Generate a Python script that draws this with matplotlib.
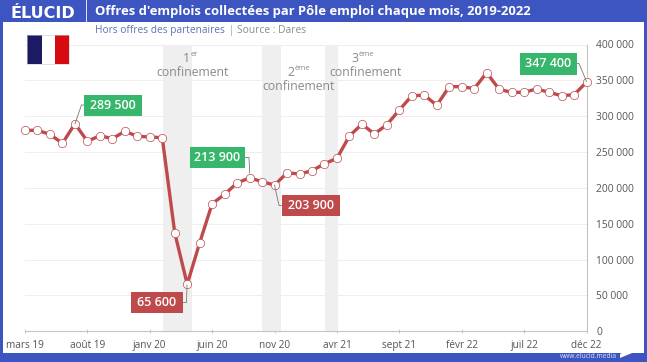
import matplotlib
matplotlib.use('Agg')
import matplotlib.pyplot as plt
from matplotlib.patches import Rectangle, Polygon

plt.rcParams['font.family'] = ['Open Sans', 'DejaVu Sans']

W, H = 647, 362

values = [280300, 280300, 274700, 262200, 289500, 265000, 272800, 268600, 279000, 272000,
          271000, 270000, 137500, 65600, 123600, 178000, 191000, 207000, 213900, 208700,
          203900, 221000, 219400, 224000, 233700, 241300, 272400, 289000, 275200, 288200,
          308600, 328600, 329300, 315200, 341200, 341200, 338400, 360700, 337500, 333300,
          333300, 338000, 333300, 328600, 330000, 347400]
tick_pos = [0, 5, 10, 15, 20, 25, 30, 35, 40, 45]
tick_labels = ['mars 19', 'août 19', 'janv 20', 'juin 20', 'nov 20', 'avr 21', 'sept 21', 'févr 22', 'juil 22', 'déc 22']
y_ticks = [0, 50000, 100000, 150000, 200000, 250000, 300000, 350000, 400000]
y_labels = ['0', '50 000', '100 000', '150 000', '200 000', '250 000', '300 000', '350 000', '400 000']
lockdowns = [(11.07, 13.37), (19.03, 20.53), (24.06, 25.05)]

BLUE = '#3D55C1'
RED = '#BE4A4C'
GREEN = '#37B76C'
GREY = '#8A8A8A'


def fx(x):
    return x / W


def fy(y):
    return 1 - y / H


def frect(x0, y0, x1, y1, color, zorder=1):
    fig.add_artist(Rectangle((fx(x0), fy(y1)), (x1 - x0) / W, (y1 - y0) / H, transform=fig.transFigure,
                             facecolor=color, edgecolor='none', zorder=zorder))


def ftext(x, y, s, **kw):
    kw.setdefault('va', 'center')
    fig.text(fx(x), fy(y), s, **kw)


def callout(box, path, text, color):
    # box in pixels, path = elbow of the connector in pixels
    xs = [fx(p[0]) for p in path]
    ys = [fy(p[1]) for p in path]
    fig.add_artist(plt.Line2D(xs, ys, color='#777777', lw=0.6, zorder=6))
    frect(box[0], box[1], box[2], box[3], color, zorder=7)
    ftext((box[0] + box[2]) / 2, (box[1] + box[3]) / 2, text, color='white', fontsize=9,
          fontweight='semibold', ha='center', zorder=8)


fig = plt.figure(figsize=(W / 100, H / 100), dpi=100, facecolor='white')

# frame
frect(0, 0, W, 22, BLUE)
frect(0, 0, 3.3, H, BLUE)
frect(643.7, 0, W, H, BLUE)
frect(0, 353, W, H, BLUE)

ax = fig.add_axes([fx(25), fy(331.3), (586.5 - 25) / W, (331.3 - 44.5) / H])
ax.set_xlim(0, 45)
ax.set_ylim(0, 400000)
ax.patch.set_alpha(0)

for a, b in lockdowns:
    ax.axvspan(a, b, color='#EFEFEF', lw=0, zorder=1)
ax.grid(axis='y', color='#EEEEEE', lw=0.7, zorder=0)
ax.set_axisbelow(True)

ax.plot(range(len(values)), values, color=RED, lw=2.4, marker='o', ms=6, mfc='white', mec=RED,
        mew=0.5, clip_on=False, zorder=5)

ax.yaxis.tick_right()
ax.set_yticks(y_ticks)
ax.set_yticklabels(y_labels, fontsize=7.4, color='#555555')
ax.set_xticks(tick_pos)
ax.set_xticklabels(tick_labels, fontsize=7.2, color='#555555')
ax.tick_params(axis='y', length=0, pad=7)
ax.tick_params(axis='x', length=3, width=0.6, color='#BBBBBB', pad=5, direction='inout')
for s in ['top', 'left']:
    ax.spines[s].set_visible(False)
for s in ['bottom', 'right']:
    ax.spines[s].set_color('#C4C4C4')
    ax.spines[s].set_linewidth(0.8)

# header
ftext(11, 17.5, 'ÉLUCID', color='white', fontsize=11.5, fontweight='bold', family='DejaVu Sans',
      va='baseline', zorder=3)
fig.add_artist(plt.Line2D([fx(85.5)] * 2, [fy(0), fy(22)], color='white', lw=0.6, zorder=3))
ftext(95, 12, "Offres d'emplois collectées par Pôle emploi chaque mois, 2019-2022", color='white',
      fontsize=9.35, fontweight='bold', zorder=3)
ftext(95, 30.5, 'Hors offres des partenaires', color='#5A74B4', fontsize=7.3)
ftext(229, 30.5, '|', color='#999999', fontsize=7)
ftext(237, 30.5, 'Source : Dares', color='#8C8C8C', fontsize=7.4)
ftext(560, 356.8, 'www.elucid.media', color='#DDE3F7', fontsize=4.8, zorder=3)
fig.add_artist(Polygon([(fx(620), fy(354)), (fx(632), fy(348)), (fx(632), fy(353)), (fx(620), fy(358))],
                       transform=fig.transFigure, facecolor='white', edgecolor='none', zorder=3))

# flag
frect(27, 35.5, 41.5, 63.5, '#1B1A62', zorder=3)
frect(41.5, 35.5, 55, 63.5, 'white', zorder=3)
frect(55, 35.5, 69, 63.5, '#D60A10', zorder=3)
fig.add_artist(Rectangle((fx(27), fy(63.5)), 42 / W, 28 / H, transform=fig.transFigure, fill=False,
                         edgecolor='#CCCCCC', lw=0.4, zorder=4))

# lockdown labels
for x, y, num, sup in [(190, 58.5, '1', 'er'), (294, 72, '2', 'ème'), (358, 58.5, '3', 'ème')]:
    ftext(x, y, num, color=GREY, fontsize=8.8, ha='right', zorder=4)
    ftext(x + 0.5, y - 3.5, sup, color=GREY, fontsize=5.5, ha='left', zorder=4)
for x, y in [(192.5, 73), (299, 87), (365.5, 73)]:
    ftext(x, y, 'confinement', color=GREY, fontsize=8.8, ha='center', zorder=4)

# callouts
callout((84, 94.5, 142, 116), [(75, 123.7), (81.5, 105), (84, 105)], '289 500', GREEN)
callout((189.5, 147, 245, 168), [(245, 157.5), (249, 157.5), (249.7, 173)], '213 900', GREEN)
callout((282, 195, 340, 216), [(274.5, 185), (279, 205.5), (282, 205.5)], '203 900', RED)
callout((131, 292, 183, 313), [(183, 302.5), (186.5, 302.5), (187, 285)], '65 600', RED)
callout((520, 53, 577, 74.5), [(577, 63.5), (579, 63.5), (586.5, 81.5)], '347 400', GREEN)

fig.savefig('out.png', dpi=100)
